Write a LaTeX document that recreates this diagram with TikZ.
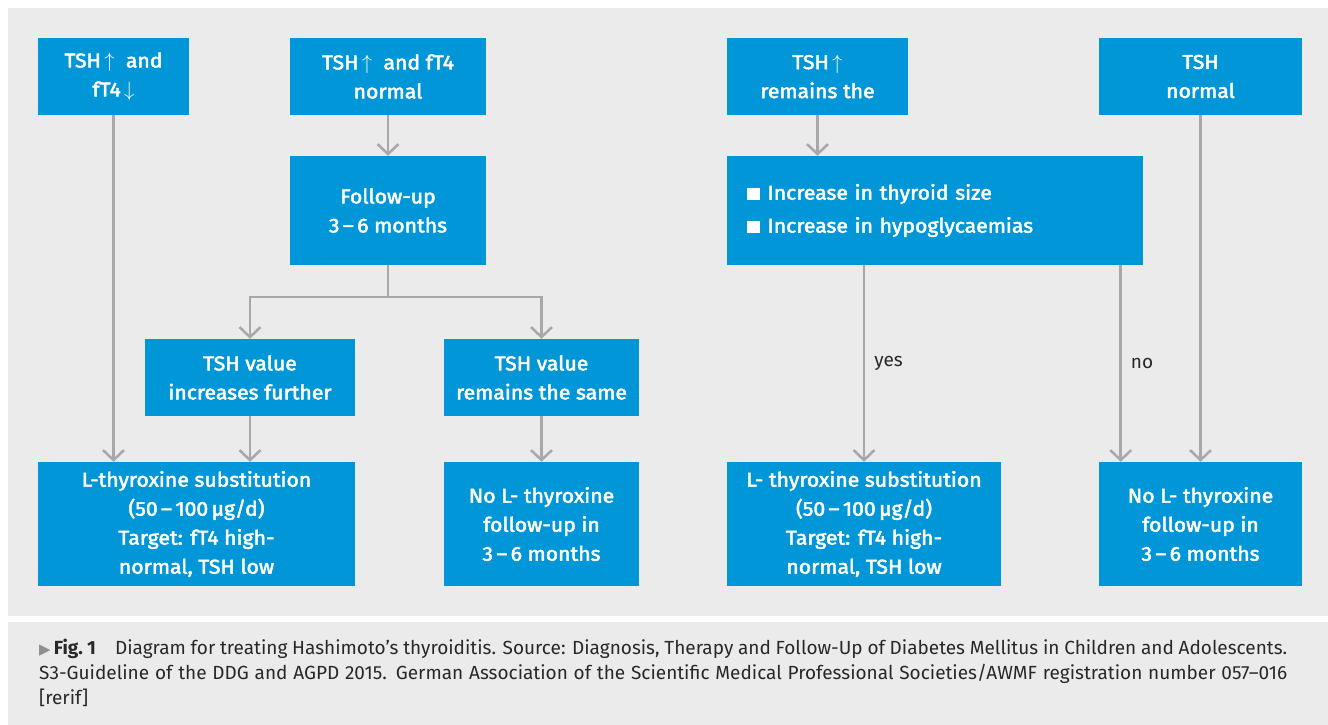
\documentclass[tikz,border=0pt]{standalone}
\usepackage{fontspec}
\setmainfont{Fira Sans}
\newfontfamily\bluefont{Fira Sans}[FakeBold=2.5,FakeStretch=1.06]
\newfontfamily\dejavu{DejaVu Sans}
\usetikzlibrary{arrows.meta}
\definecolor{panelgrey}{RGB}{235,235,235}
\definecolor{boxblue}{RGB}{0,150,216}
\definecolor{linegrey}{RGB}{168,168,168}
\definecolor{captext}{RGB}{40,40,40}

\begin{document}
\begin{tikzpicture}
      [x=1pt, y=-1pt,
       box/.style={rectangle, fill=boxblue, text=white, inner sep=0pt, align=center,
                   font=\bluefont\fontsize{20}{29}\selectfont},
       link/.style={draw=linegrey, line width=2.5pt, -{Straight Barb[length=10pt,width=21pt]}},
       answer/.style={right, inner sep=0pt, xshift=9pt, text=captext,
                      font=\fontsize{19}{24}\selectfont}]
      \useasboundingbox (0,0) rectangle (1328,725);
      \fill [panelgrey] (8,8) rectangle (1328,616);
      \fill [panelgrey] (8,622) rectangle (1328,725);

      % left half
      \node [box, minimum width=151, minimum height=77] (down) at (113.5,76.5) {TSH\,$\uparrow$\ \ and\\fT4\,$\downarrow$};
      \node [box, minimum width=196, minimum height=77] (norm) at (388,76.5) {TSH\,$\uparrow$\ \ and fT4\\normal};
      \node [box, minimum width=196, minimum height=109] (fup) at (388,210.5) {Follow-up\\3\,–\,6 months};
      \node [box, minimum width=210, minimum height=77] (incr) at (250,377.5) {TSH value\\increases further};
      \node [box, minimum width=195, minimum height=77] (same) at (541.5,377.5) {TSH value\\remains the same};
      \node [box, minimum width=317, minimum height=124] (subst) at (196.5,524) {L-thyroxine substitution\\(50\,–\,100\,µg/d)\\Target: fT4 high-\\normal, TSH low};
      \node [box, minimum width=195, minimum height=124] (nosubst) at (541.5,524) {No L- thyroxine\\follow-up in\\3\,–\,6 months};

      % right half
      \node [box, minimum width=181, minimum height=77] (stays) at (817.5,76.5) {TSH\,$\uparrow$\\remains the};
      \node [box, minimum width=203, minimum height=77] (tshnorm) at (1200.5,76.5) {TSH\\normal};
      \node [box, text width=376, inner xsep=20pt, minimum height=109, align=left,
             font=\bluefont\fontsize{20}{33}\selectfont] (signs) at (935,210.5)
            {\rule{12.5pt}{12pt}\hspace{8pt}Increase in thyroid size\\\rule{12.5pt}{12pt}\hspace{8pt}Increase in hypoglycaemias};
      \node [box, minimum width=274, minimum height=124] (subst2) at (864,524) {L- thyroxine substitution\\(50\,–\,100\,µg/d)\\Target: fT4 high-\\normal, TSH low};
      \node [box, minimum width=203, minimum height=124] (nosubst2) at (1200.5,524) {No L- thyroxine\\follow-up in\\3\,–\,6 months};

      \coordinate (split) at (388,297);
      \coordinate (noline) at ([xshift=-22.5pt]signs.south east);

      \draw [link] (down.south) -- (down.south |- subst.north);
      \draw [link] (norm) -- (fup);
      \draw [link] (fup) -- (split) -| (incr);
      \draw [link] (split) -| (same);
      \draw [link] (incr.south) -- (incr.south |- subst.north);
      \draw [link] (same) -- (nosubst);
      \draw [link] (stays.south) -- (stays.south |- signs.north);
      \draw [link] (signs.south -| subst2.north) -- (subst2.north) node [midway, answer] {yes};
      \draw [link] (noline) -- (noline |- nosubst2.north) node [midway, answer] {no};
      \draw [link] (tshnorm) -- (nosubst2);

      % caption
      \node [anchor=base west, align=left, inner sep=0pt, text=captext,
             font=\fontsize{19}{25}\selectfont] (caption) at (39,704)
            {\makebox[1248pt][s]{{\color{linegrey!85!black}\dejavu\fontsize{15}{25}\selectfont ▶}\,\textbf{Fig.~1}\hspace{1em}Diagram for treating Hashimoto’s thyroiditis. Source: Diagnosis, Therapy and Follow-Up of Diabetes Mellitus in Children and Adolescents.}\\
             \makebox[1248pt][s]{S3-Guideline of the DDG and AGPD 2015. German Association of the Scientific Medical Professional Societies/AWMF registration number 057–016}\\
             {[rerif]}};
    \end{tikzpicture}
\end{document}
